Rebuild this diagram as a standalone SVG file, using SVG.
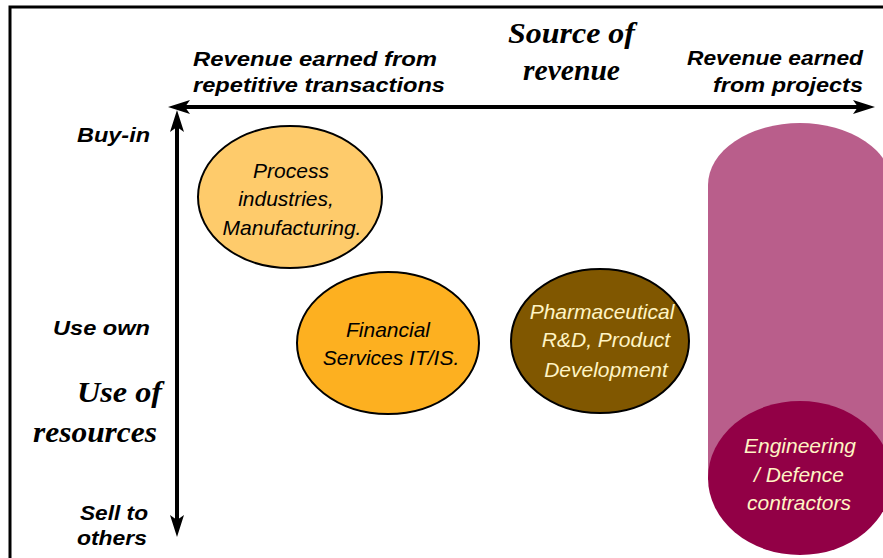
<svg xmlns="http://www.w3.org/2000/svg" width="883" height="558" viewBox="0 0 883 558">
<style>
.lab{font-family:"Liberation Sans",Arial,sans-serif;font-weight:bold;font-style:italic;font-size:20px;fill:#000}
.ttl{font-family:"Liberation Serif","Times New Roman",serif;font-weight:bold;font-style:italic;font-size:30px;fill:#000}
.nd{font-family:"Liberation Sans",Arial,sans-serif;font-style:italic;font-size:21px;text-anchor:middle}
.dark{fill:#000}
.light{fill:#FFF4C4}
.axis{stroke:#000;stroke-width:4;fill:none}
.ell{stroke:#000;stroke-width:2}
</style>
<defs>
<marker id="ah" viewBox="0 0 22 14" refX="12" refY="7" markerWidth="22" markerHeight="14" markerUnits="userSpaceOnUse" orient="auto-start-reverse">
<path d="M0,0 L22,7 L0,14 L5,7 Z" fill="#000"/>
</marker>
</defs>
<rect width="883" height="558" fill="#fff"/>
<g id="frame">
<path d="M10,558 V7 H883" stroke="#000" stroke-width="3" fill="none"/>
</g>
<g id="connectors">
<line class="axis" x1="178" y1="107" x2="865" y2="107" marker-start="url(#ah)" marker-end="url(#ah)"/>
<line class="axis" x1="177" y1="120" x2="177" y2="527" marker-start="url(#ah)" marker-end="url(#ah)"/>
</g>
<g id="axis-labels">
<text class="lab" x="193" y="66" textLength="244" lengthAdjust="spacingAndGlyphs">Revenue earned from</text>
<text class="lab" x="193" y="92" textLength="252" lengthAdjust="spacingAndGlyphs">repetitive transactions</text>
<text class="lab" x="687" y="65" textLength="176" lengthAdjust="spacingAndGlyphs">Revenue earned</text>
<text class="lab" x="713" y="92" textLength="150" lengthAdjust="spacingAndGlyphs">from projects</text>
<text class="ttl" x="508" y="43" textLength="127" lengthAdjust="spacingAndGlyphs">Source of</text>
<text class="ttl" x="523" y="80" textLength="97" lengthAdjust="spacingAndGlyphs">revenue</text>
<text class="lab" x="77" y="142" textLength="73" lengthAdjust="spacingAndGlyphs">Buy-in</text>
<text class="lab" x="53" y="335" textLength="97" lengthAdjust="spacingAndGlyphs">Use own</text>
<text class="ttl" x="77" y="402" textLength="85" lengthAdjust="spacingAndGlyphs">Use of</text>
<text class="ttl" x="33" y="442" textLength="124" lengthAdjust="spacingAndGlyphs">resources</text>
<text class="lab" x="80" y="520" textLength="68" lengthAdjust="spacingAndGlyphs">Sell to</text>
<text class="lab" x="77" y="545" textLength="70" lengthAdjust="spacingAndGlyphs">others</text>
</g>
<g id="process">
<ellipse class="ell" cx="290" cy="197" rx="92" ry="71" fill="#FECB6B"/>
<text class="nd dark" x="291" y="178">Process</text>
<text class="nd dark" x="286" y="206">industries,</text>
<text class="nd dark" x="292" y="235">Manufacturing.</text>
</g>
<g id="financial">
<ellipse class="ell" cx="388" cy="343" rx="91" ry="71" fill="#FDB020"/>
<text class="nd dark" x="388" y="337">Financial</text>
<text class="nd dark" x="391" y="365">Services IT/IS.</text>
</g>
<g id="pharma">
<ellipse class="ell" cx="600" cy="341" rx="89" ry="72" fill="#805700"/>
<text class="nd light" x="602" y="319">Pharmaceutical</text>
<text class="nd light" x="606" y="347">R&amp;D, Product</text>
<text class="nd light" x="606" y="377">Development</text>
</g>
<g id="projects-band">
<path d="M708,185 A92,62 0 0 1 892,185 V480 H708 Z" fill="#B95E8B"/>
</g>
<g id="engineering">
<ellipse cx="800" cy="478" rx="92" ry="77" fill="#920046"/>
<text class="nd light" x="800" y="453">Engineering</text>
<text class="nd light" x="799" y="482">/ Defence</text>
<text class="nd light" x="799" y="510">contractors</text>
</g>
</svg>
